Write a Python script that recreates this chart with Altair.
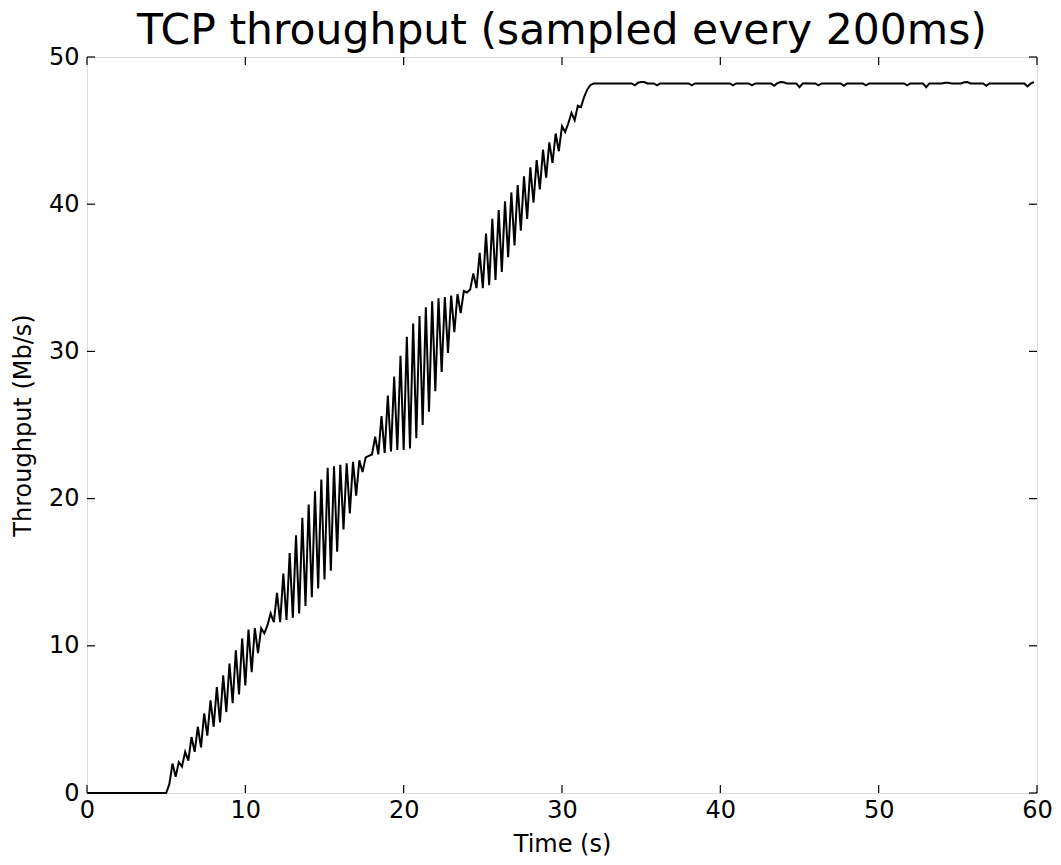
import altair as alt
import pandas as pd

# Throughput (Mb/s), one sample every 200 ms
throughput = [
    0, 0, 0, 0, 0, 0, 0, 0, 0, 0,
    0, 0, 0, 0, 0, 0, 0, 0, 0, 0,
    0, 0, 0, 0, 0, 0, 0.6, 2.0, 1.1, 2.1,
    1.8, 2.8, 2.2, 3.8, 2.8, 4.5, 3.1, 5.4, 3.9, 6.3,
    4.5, 7.2, 4.8, 8.0, 5.5, 8.8, 6.1, 9.7, 6.7, 10.5,
    7.3, 11.1, 8.2, 11.2, 9.5, 11.2, 10.85, 11.4, 12.2, 11.6,
    13.6, 11.6, 14.9, 11.75, 16.3, 11.9, 17.5, 12.2, 18.7, 12.7,
    19.6, 13.3, 20.5, 13.9, 21.3, 14.5, 22.1, 15.1, 22.2, 16.4,
    22.3, 17.9, 22.4, 19.0, 22.5, 20.2, 22.6, 21.8, 22.8, 22.9,
    23.0, 24.2, 23.0, 25.6, 23.1, 27.0, 23.2, 28.3, 23.3, 29.7,
    23.3, 31.0, 23.4, 31.9, 24.1, 32.4, 25.0, 33.0, 25.9, 33.4,
    27.3, 33.6, 28.6, 33.7, 29.9, 33.8, 31.3, 33.9, 32.6, 34.1,
    34.0, 34.2, 35.3, 34.3, 36.7, 34.3, 38.0, 34.5, 39.0, 34.85,
    39.6, 35.4, 40.2, 36.4, 40.8, 37.2, 41.3, 38.2, 41.9, 39.0,
    42.5, 40.1, 43.0, 41.0, 43.7, 41.8, 44.2, 42.8, 44.8, 43.6,
    45.3, 44.9, 45.5, 46.2, 45.7, 46.7, 46.6, 47.3, 47.8, 48.1,
    48.2, 48.2, 48.2, 48.2, 48.2, 48.2, 48.2, 48.2, 48.2, 48.2,
    48.2, 48.2, 48.2, 48.08, 48.25, 48.3, 48.3, 48.2, 48.2, 48.2,
    48.08, 48.2, 48.2, 48.2, 48.2, 48.2, 48.2, 48.2, 48.2, 48.2,
    48.2, 48.08, 48.2, 48.2, 48.2, 48.2, 48.2, 48.2, 48.2, 48.2,
    48.2, 48.2, 48.2, 48.2, 48.08, 48.2, 48.2, 48.2, 48.2, 48.2,
    48.08, 48.2, 48.2, 48.2, 48.2, 48.2, 48.2, 48.05, 48.22, 48.3,
    48.28, 48.2, 48.2, 48.2, 48.2, 47.95, 48.2, 48.22, 48.2, 48.2,
    48.2, 48.08, 48.2, 48.2, 48.2, 48.2, 48.2, 48.2, 48.2, 48.05,
    48.2, 48.2, 48.2, 48.2, 48.2, 48.2, 48.08, 48.2, 48.2, 48.2,
    48.2, 48.2, 48.2, 48.2, 48.2, 48.2, 48.2, 48.2, 48.2, 48.08,
    48.2, 48.2, 48.2, 48.2, 48.2, 47.95, 48.2, 48.2, 48.2, 48.2,
    48.2, 48.25, 48.25, 48.2, 48.2, 48.2, 48.2, 48.28, 48.3, 48.2,
    48.2, 48.2, 48.2, 48.2, 48.05, 48.2, 48.2, 48.2, 48.2, 48.2,
    48.2, 48.2, 48.2, 48.2, 48.2, 48.2, 48.2, 48.0, 48.2, 48.3,
]
sample_period_s = 0.2
time_s = [round(i * sample_period_s, 1) for i in range(len(throughput))]

x_ticks = [0, 10, 20, 30, 40, 50, 60]
y_ticks = [0, 10, 20, 30, 40, 50]

W, H = 950, 736
TICK = 8
FONT = "DejaVu Sans"

df = pd.DataFrame({"t": time_s, "v": throughput})
xt = pd.DataFrame({"t": x_ticks})
yt = pd.DataFrame({"v": y_ticks})

xs = alt.Scale(domain=[0, 60], nice=False, zero=False)
ys = alt.Scale(domain=[0, 50], nice=False, zero=False)

x_axis = alt.Axis(
    title="Time (s)", values=x_ticks, ticks=False, tickSize=0, domain=False,
    grid=False, labelFontSize=24, labelPadding=5, labelColor="black",
    labelFlush=False, titleFontSize=24, titleColor="black",
    titleFontWeight="normal", titleY=58, titleBaseline="alphabetic",
    labelFont=FONT, titleFont=FONT)
y_axis = alt.Axis(
    title="Throughput (Mb/s)", values=y_ticks, ticks=False, tickSize=0,
    domain=False, grid=False, labelFontSize=24, labelPadding=8,
    labelColor="black", labelFlush=False, titleFontSize=24, titleColor="black",
    titleFontWeight="normal", titleX=-64, titleY=H / 2, titleAngle=270,
    titleBaseline="middle", labelFont=FONT, titleFont=FONT)

X = alt.X("t:Q", scale=xs, axis=x_axis)
Y = alt.Y("v:Q", scale=ys, axis=y_axis)

line = alt.Chart(df).mark_line(color="black", strokeWidth=2).encode(x=X, y=Y)

bottom_ticks = alt.Chart(xt).mark_rule(color="black", strokeWidth=1.2).encode(
    x=X, y=alt.value(H), y2=alt.value(H - TICK))
top_ticks = alt.Chart(xt).mark_rule(color="black", strokeWidth=1.2).encode(
    x=X, y=alt.value(0), y2=alt.value(TICK))
left_ticks = alt.Chart(yt).mark_rule(color="black", strokeWidth=1.2).encode(
    y=Y, x=alt.value(0), x2=alt.value(TICK))
right_ticks = alt.Chart(yt).mark_rule(color="black", strokeWidth=1.2).encode(
    y=Y, x=alt.value(W - TICK), x2=alt.value(W))

chart = alt.layer(line, bottom_ticks, top_ticks, left_ticks, right_ticks).properties(
    width=W, height=H,
    title=alt.TitleParams("TCP throughput (sampled every 200ms)", fontSize=42.5,
                          font=FONT, fontWeight="normal", anchor="middle",
                          frame="group", offset=2, dy=9, color="black"),
    padding={"left": 79, "top": 49, "right": 16, "bottom": 64},
    autosize=alt.AutoSizeParams(type="none"),
).configure_view(stroke="black", strokeWidth=1.5).configure(background="white")

chart.save("out.html", embed_options={"renderer": "svg", "actions": False})
